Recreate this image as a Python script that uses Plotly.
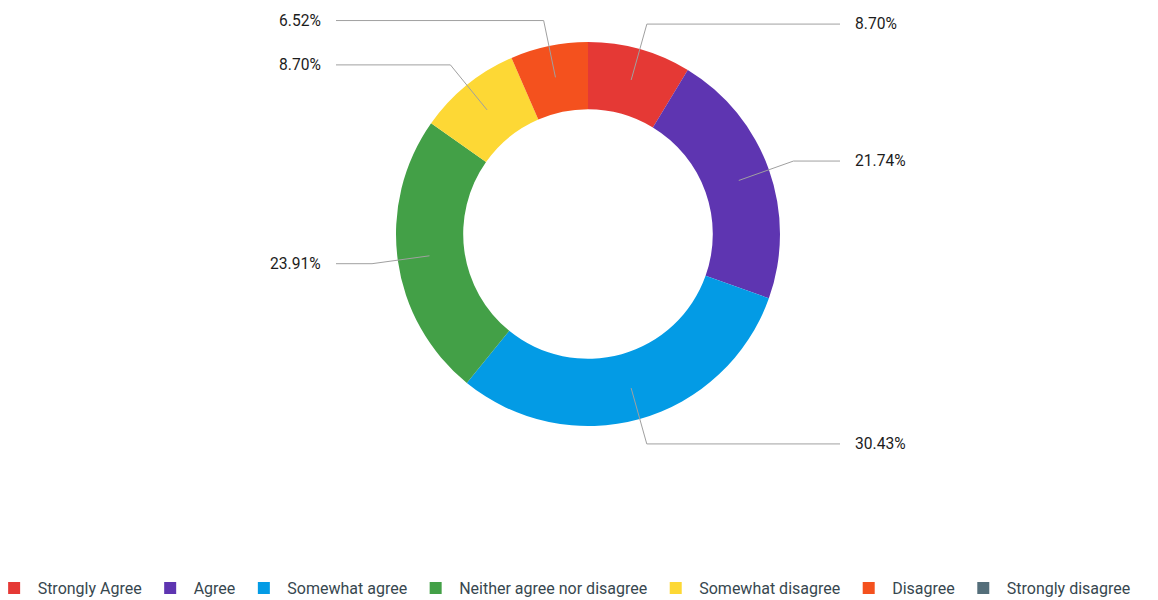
import math
import plotly.graph_objects as go

categories = ["Strongly Agree", "Agree", "Somewhat agree", "Neither agree nor disagree",
              "Somewhat disagree", "Disagree", "Strongly disagree"]
percents = [8.70, 21.74, 30.43, 23.91, 8.70, 6.52, 0.0]
colors = ["#E53935", "#5E35B1", "#039BE5", "#43A047", "#FDD835", "#F4511E", "#546E7A"]

W, H = 1158, 600
MB = 40                    # bottom margin (legend lives below the plot area)
PH = H - MB                # plot-area height
PAGE_OFF = 8               # default body margin of the html page
CX, CY = 588 - PAGE_OFF, 234 - PAGE_OFF   # donut centre (figure pixels)
R_OUT = 192                # outer radius (pixels)
HOLE = 0.65
R_START, R_ELBOW = 160, 218
X_LINE_OFF = 252
LABEL_GAP = 13
LEGEND_Y = 580             # legend centre (figure pixels)
FONT = "Roboto, Arial, sans-serif"


def px(x):
    return x / W


def py(y):
    return 1 - y / PH


fig = go.Figure(go.Pie(
    labels=categories,
    values=percents,
    marker=dict(colors=colors, line=dict(width=0)),
    hole=HOLE,
    sort=False,
    direction="clockwise",
    rotation=0,
    textinfo="none",
    hoverinfo="label+percent",
    domain=dict(x=[px(CX - R_OUT), px(CX + R_OUT)], y=[py(CY + R_OUT), py(CY - R_OUT)]),
))

total = sum(percents)
cum = 0.0
shapes = []
annotations = []
for cat, v in zip(categories, percents):
    if v <= 0:
        cum += v
        continue
    mid = (cum + v / 2) / total * 2 * math.pi
    cum += v
    s = math.sin(mid)
    c = math.cos(mid)
    x0, y0 = CX + R_START * s, CY - R_START * c
    x1, y1 = CX + R_ELBOW * s, CY - R_ELBOW * c
    right = s >= 0
    x2 = CX + X_LINE_OFF if right else CX - X_LINE_OFF
    path = f"M {px(x0)} {py(y0)} L {px(x1)} {py(y1)} L {px(x2)} {py(y1)}"
    shapes.append(dict(type="path", xref="paper", yref="paper", path=path,
                       line=dict(color="#a0a0a0", width=1)))
    annotations.append(dict(
        xref="paper", yref="paper",
        x=px(x2 + LABEL_GAP) if right else px(x2 - LABEL_GAP), y=py(y1),
        xanchor="left" if right else "right", yanchor="middle",
        text=f"{v:.2f}%", showarrow=False,
        font=dict(family=FONT, size=15.6, color="#1c1c1c"),
    ))

fig.update_layout(
    width=W, height=H,
    margin=dict(l=0, r=0, t=0, b=MB, autoexpand=False),
    paper_bgcolor="white",
    plot_bgcolor="white",
    shapes=shapes,
    annotations=annotations,
    showlegend=True,
    legend=dict(orientation="h", x=-0.015, xanchor="left", y=py(LEGEND_Y), yanchor="middle",
                itemwidth=37,
                font=dict(family=FONT, size=16, color="#37474F"),
                itemclick=False, traceorder="normal"),
)

fig.write_html("out.html")
